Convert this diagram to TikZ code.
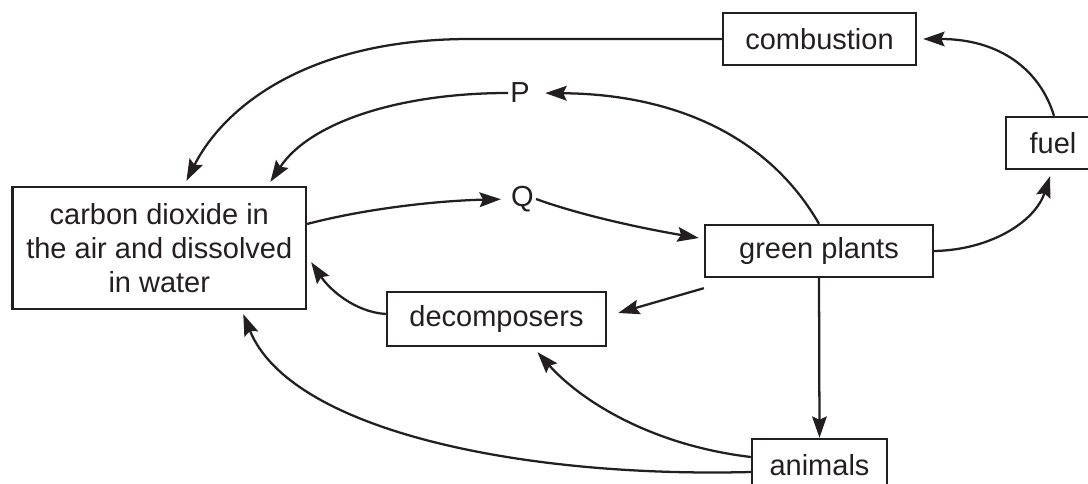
\documentclass[tikz,border=0pt]{standalone}
\usepackage{fontspec}
\setmainfont{Liberation Sans}
\usetikzlibrary{arrows.meta,calc}
\definecolor{ink}{RGB}{35,31,32}
\tikzset{
  box/.style={draw=ink, line width=1.8pt, inner sep=0pt, text=ink,
    font=\fontsize{21.75}{25.5}\selectfont, minimum height=39pt},
  lbl/.style={inner sep=1.5pt, text=ink, font=\fontsize{21.75}{25.5}\selectfont},
  arr/.style={draw=ink, line width=1.7pt, -{Stealth[length=16pt,width=11pt,inset=2.5pt]}},
  plain/.style={draw=ink, line width=1.7pt}
}
\begin{document}
\begin{tikzpicture}[x=0.75pt,y=-0.75pt]
\useasboundingbox (0,0) rectangle (1088,484);
\clip (0,0) rectangle (1088,484);
% nodes
\node[box, minimum width=220pt, minimum height=91.5pt, align=center] (co2) at (159.3,248)
  {carbon dioxide in\\the air and dissolved\\in water};
\node[box, minimum width=144.75pt] (comb) at (819.5,39) {combustion};
\node[box, minimum width=70.5pt] (fuel) at (1053,143) {fuel};
\node[box, minimum width=171pt] (gp) at (819,251) {green plants};
\node[box, minimum width=164.25pt, minimum height=40.5pt] (dec) at (496.5,319) {decomposers};
\node[box, minimum width=101.25pt] (anim) at (819.5,465) {animals};
\node[lbl] (P) at (520,93) {P};
\node[lbl] (Q) at (522.5,199) {Q};
% connectors
\draw[arr] (comb.west) -- (470,39) .. controls (310,39) and (225,105) .. ($(co2.north west)+(175,-5)$);
\draw[arr] (P.west) .. controls (400,93) and (310,122) .. ($(co2.north west)+(259,-4)$);
\draw[arr, shorten >=10pt] (gp.north) .. controls (765,130) and (665,94) .. (P.east);
\draw[arr, shorten >=6pt] ($(co2.east)+(0,-24)$) .. controls (360,210) and (430,201) .. (Q.west);
\draw[arr] (Q.east) .. controls (580,215) and (640,228) .. ($(gp.west)+(-5,-13)$);
\draw[arr] (gp.east) .. controls (990,250) and (1035,222) .. ($(fuel.south)+(-3,6)$);
\draw[arr] ($(fuel.north)+(1,0)$) .. controls (1040,70) and (1000,39) .. ($(comb.east)+(6,0)$);
\draw[arr] ($(gp.south west)+(0,10)$) -- ($(dec.east)+(11,-6)$);
\draw[arr] ($(dec.west)+(0,-5)$) .. controls (355,312) and (330,290) .. ($(co2.south east)+(4,-48)$);
\draw[arr] ($(anim.west)+(0,-8)$) .. controls (650,445) and (580,400) .. ($(dec.south)+(41,5)$);
\draw[arr] ($(anim.west)+(0,7)$) .. controls (520,478) and (290,430) .. ($(co2.south)+(84,4)$);
\draw[arr] (gp.south) -- (anim.north);
\end{tikzpicture}
\end{document}
